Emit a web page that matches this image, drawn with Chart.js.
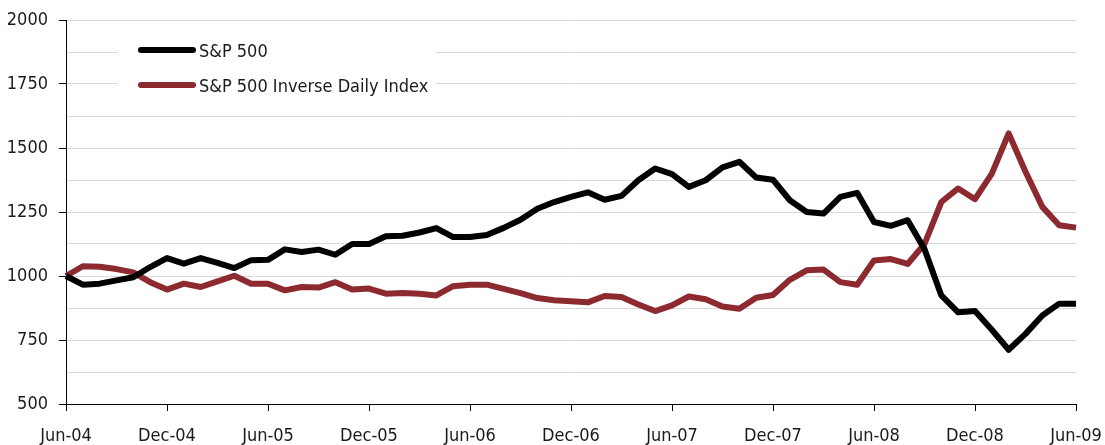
<!DOCTYPE html>
<html>
<head>
<meta charset="utf-8">
<script src="https://cdn.jsdelivr.net/npm/chart.js@4/dist/chart.umd.min.js"></script>
<style>
  body { margin: 0; background: #fff; }
</style>
</head>
<body>
<canvas id="spChart" width="1105" height="445"></canvas>
<script>
// monthly labels, Jun-04 .. Jun-09
const months = [
  "Jun-04", "Jul-04", "Aug-04", "Sep-04", "Oct-04", "Nov-04", "Dec-04",
  "Jan-05", "Feb-05", "Mar-05", "Apr-05", "May-05", "Jun-05", "Jul-05", "Aug-05", "Sep-05", "Oct-05", "Nov-05", "Dec-05",
  "Jan-06", "Feb-06", "Mar-06", "Apr-06", "May-06", "Jun-06", "Jul-06", "Aug-06", "Sep-06", "Oct-06", "Nov-06", "Dec-06",
  "Jan-07", "Feb-07", "Mar-07", "Apr-07", "May-07", "Jun-07", "Jul-07", "Aug-07", "Sep-07", "Oct-07", "Nov-07", "Dec-07",
  "Jan-08", "Feb-08", "Mar-08", "Apr-08", "May-08", "Jun-08", "Jul-08", "Aug-08", "Sep-08", "Oct-08", "Nov-08", "Dec-08",
  "Jan-09", "Feb-09", "Mar-09", "Apr-09", "May-09", "Jun-09"
];

const sp500 = [
  1000, 966, 970, 983, 995, 1035, 1070,
  1048, 1070, 1051, 1031, 1062, 1063, 1104, 1094, 1103, 1083, 1125, 1125,
  1155, 1157, 1170, 1187, 1152, 1152, 1160, 1188, 1220, 1263, 1289, 1309,
  1327, 1298, 1313, 1374, 1420, 1398, 1348, 1374, 1424, 1446, 1385, 1376,
  1296, 1250, 1244, 1309, 1325, 1211, 1196, 1218, 1105, 924, 858, 863,
  790, 712, 774, 846, 892, 892
];

const spInverse = [
  1000, 1038, 1036, 1027, 1014, 976, 947,
  970, 957, 979, 1001, 970, 970, 944, 957, 955, 976, 947, 951,
  931, 934, 931, 924, 960, 966, 966, 950, 933, 914, 905, 901,
  897, 922, 918, 889, 863, 885, 920, 909, 881, 872, 915, 926,
  985, 1022, 1025, 976, 966, 1061, 1066, 1047, 1125, 1289, 1342, 1300,
  1400, 1557, 1407, 1270, 1198, 1189
];

const seriesNames = ["S&P 500", "S&P 500 Inverse Daily Index"];
const colors = ["#000000", "#8C2A30"];

const fontFamily = "'DejaVu Sans Condensed', 'Liberation Sans Narrow', sans-serif";
const fontSize = 18;
const textColor = "#1a1a1a";

// legend drawn inside the plot, top left, on a white box
const insideLegend = {
  id: "insideLegend",
  afterDatasetsDraw(chart) {
    const ctx = chart.ctx;
    ctx.save();
    ctx.fillStyle = "#fff";
    ctx.fillRect(118, 30, 318, 72);
    chart.data.datasets.forEach((ds, i) => {
      const y = 50 + i * 35;
      ctx.strokeStyle = ds.borderColor;
      ctx.lineWidth = 6;
      ctx.lineCap = "round";
      ctx.beginPath();
      ctx.moveTo(141, y);
      ctx.lineTo(193, y);
      ctx.stroke();
      ctx.fillStyle = textColor;
      ctx.font = fontSize + "px " + fontFamily;
      ctx.textBaseline = "middle";
      ctx.fillText(ds.label, 199, y + 2);
    });
    ctx.restore();
  }
};

new Chart(document.getElementById("spChart"), {
  type: "line",
  data: {
    labels: months,
    datasets: [sp500, spInverse].map((vals, i) => ({
      label: seriesNames[i],
      data: vals,
      borderColor: colors[i],
      backgroundColor: colors[i],
      borderWidth: 6,
      borderJoinStyle: "round",
      pointRadius: 0,
      tension: 0,
      fill: false,
    })),
  },
  options: {
    responsive: false,
    animation: false,
    layout: { padding: { top: 20, right: 29, left: 0, bottom: 0 } },
    plugins: {
      legend: { display: false },
      tooltip: { enabled: false },
    },
    scales: {
      x: {
        offset: false,
        afterFit: (scale) => {
          scale.height = 41;
          scale.paddingLeft = 0;
          scale.paddingRight = 0;
        },
        border: { color: "#000", width: 1 },
        grid: {
          drawOnChartArea: false,
          tickLength: 7,
          tickColor: (c) => (c.index % 6 === 0 ? "#000" : "rgba(0,0,0,0)"),
        },
        ticks: {
          autoSkip: false,
          maxRotation: 0,
          padding: 15,
          color: textColor,
          font: { family: fontFamily, size: fontSize },
          callback: (v, i) => (i % 6 === 0 ? months[i] : ""),
        },
      },
      y: {
        min: 500,
        max: 2000,
        afterFit: (scale) => {
          scale.width = 66;
          scale.paddingTop = 0;
          scale.paddingBottom = 0;
        },
        border: { color: "#000", width: 1 },
        grid: {
          color: (c) => (c.tick && c.tick.value === 500 ? "#000" : "#d9d9d9"),
          lineWidth: 1,
          tickLength: 7,
          tickColor: (c) => (c.tick && c.tick.value % 250 === 0 ? "#000" : "rgba(0,0,0,0)"),
        },
        ticks: {
          stepSize: 125,
          padding: 11,
          color: textColor,
          font: { family: fontFamily, size: fontSize },
          callback: (v) => (v % 250 === 0 ? v : ""),
        },
      },
    },
  },
  plugins: [insideLegend],
});
</script>
</body>
</html>
